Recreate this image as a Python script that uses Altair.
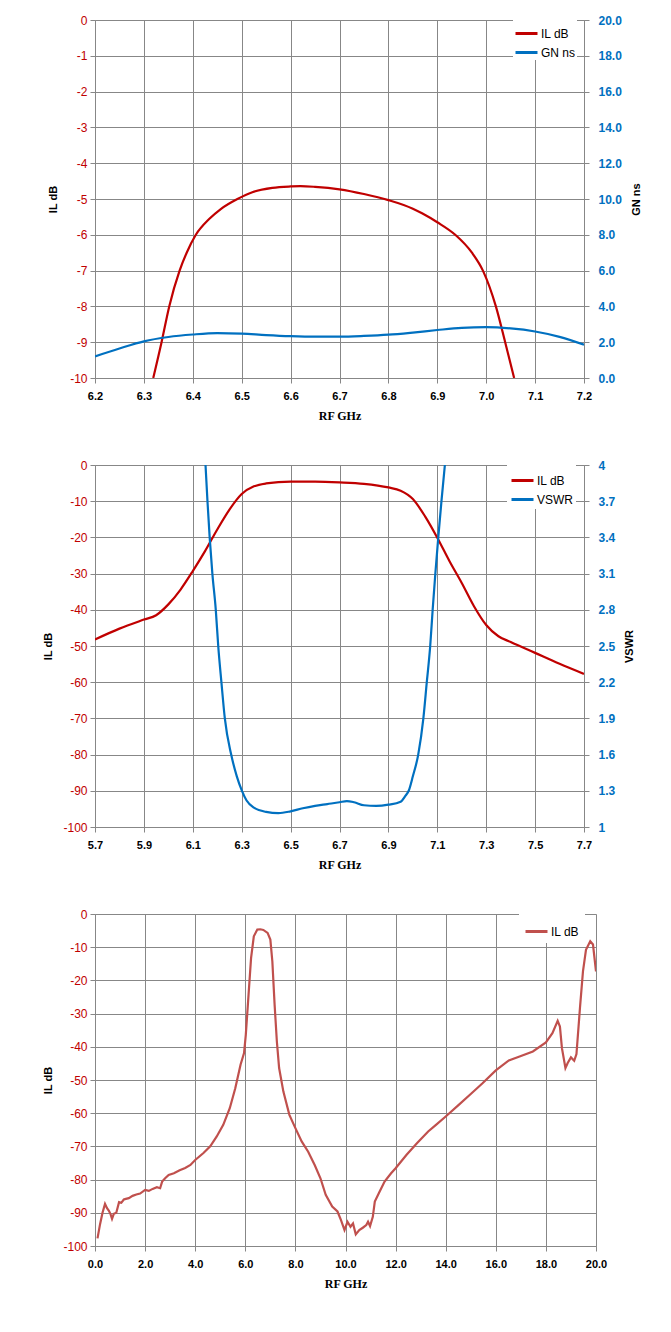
import altair as alt
import pandas as pd

RED = "#C00000"
BLUE = "#0070C0"
RED3 = "#C0504D"
GRID = "#878787"
SANS = "Liberation Sans"
SERIF = "Liberation Serif"

# ---------- Chart 1 data ----------
c1_il_f = [6.3191, 6.3361, 6.3518, 6.3730, 6.3875, 6.4062, 6.4334, 6.4572, 6.4912, 6.5218,
           6.5627, 6.60, 6.62, 6.65, 6.70, 6.75, 6.80, 6.85, 6.8688, 6.90, 6.9367, 6.9708,
           6.9933, 7.0198, 7.0388, 7.0571]
c1_il_v = [-10.0, -9.0, -8.0, -7.0, -6.5, -6.0, -5.56, -5.28, -5.0, -4.81,
           -4.69, -4.65, -4.64, -4.66, -4.73, -4.86, -5.03, -5.27, -5.40, -5.65, -6.0, -6.5,
           -7.0, -8.0, -9.0, -10.0]
c1_gn_f = [6.20, 6.25, 6.30, 6.35, 6.40, 6.45, 6.50, 6.55, 6.60, 6.65, 6.70, 6.75, 6.80,
           6.85, 6.90, 6.95, 7.00, 7.05, 7.10, 7.15, 7.20]
c1_gn_v = [1.21, 1.65, 2.05, 2.29, 2.43, 2.51, 2.48, 2.40, 2.34, 2.31, 2.31, 2.35, 2.42,
           2.54, 2.68, 2.80, 2.84, 2.77, 2.60, 2.30, 1.86]
c1_x_ticks = [6.2, 6.3, 6.4, 6.5, 6.6, 6.7, 6.8, 6.9, 7.0, 7.1, 7.2]
c1_yl_ticks = [0, -1, -2, -3, -4, -5, -6, -7, -8, -9, -10]
c1_yr_ticks = [0, 2, 4, 6, 8, 10, 12, 14, 16, 18, 20]

# ---------- Chart 2 data ----------
c2_il_f = [5.7, 5.8, 5.9, 5.95, 6.0, 6.05, 6.1, 6.15, 6.2, 6.25, 6.3, 6.35, 6.4, 6.5, 6.6,
           6.7, 6.8, 6.9, 6.95, 7.0, 7.05, 7.1, 7.15, 7.2, 7.25, 7.3, 7.35, 7.4, 7.5, 7.6, 7.7]
c2_il_v = [-48.2, -45.2, -42.7, -41.5, -38.5, -34.4, -29.3, -23.8, -17.8, -12.3, -8.0, -5.9,
           -5.1, -4.6, -4.6, -4.8, -5.2, -6.2, -7.1, -9.4, -14.2, -20.1, -26.6, -32.6, -39.0,
           -44.2, -47.3, -48.9, -51.9, -54.9, -57.7]
c2_vs_f = [6.152, 6.16, 6.169, 6.18, 6.194, 6.204, 6.217, 6.231, 6.257, 6.28, 6.301, 6.32,
           6.35, 6.40, 6.45, 6.50, 6.55, 6.60, 6.65, 6.70, 6.73, 6.76, 6.80, 6.85, 6.90,
           6.95, 6.97, 6.983, 7.0, 7.022, 7.043, 7.057, 7.071, 7.081, 7.092, 7.104, 7.117, 7.131]
c2_vs_v = [4.0, 3.7, 3.4, 3.1, 2.8, 2.5, 2.2, 1.9, 1.6, 1.42, 1.3, 1.22,
           1.16, 1.125, 1.115, 1.13, 1.155, 1.175, 1.19, 1.205, 1.215, 1.205, 1.18, 1.175, 1.185,
           1.21, 1.26, 1.3, 1.42, 1.6, 1.9, 2.2, 2.5, 2.8, 3.1, 3.4, 3.7, 4.0]
c2_x_ticks = [5.7, 5.9, 6.1, 6.3, 6.5, 6.7, 6.9, 7.1, 7.3, 7.5, 7.7]
c2_yl_ticks = [0, -10, -20, -30, -40, -50, -60, -70, -80, -90, -100]
c2_yr_ticks = [1, 1.3, 1.6, 1.9, 2.2, 2.5, 2.8, 3.1, 3.4, 3.7, 4]

# ---------- Chart 3 data ----------
c3_f = [0.1, 0.2, 0.3, 0.4, 0.48, 0.55, 0.62, 0.68, 0.75, 0.85, 0.96, 1.05, 1.15, 1.23, 1.35,
        1.5, 1.65, 1.8, 2.0, 2.15, 2.3, 2.47, 2.6, 2.68, 2.8, 2.94, 3.15, 3.38, 3.6, 3.81, 4.0,
        4.33, 4.6, 4.86, 5.12, 5.38, 5.6, 5.81, 5.95, 6.02, 6.13, 6.23, 6.34, 6.48, 6.6, 6.72,
        6.89, 7.0, 7.08, 7.17, 7.26, 7.35, 7.52, 7.76, 8.0, 8.25, 8.51, 8.77, 9.0, 9.21, 9.47,
        9.68, 9.82, 9.96, 10.08, 10.2, 10.3, 10.41, 10.55, 10.69, 10.83, 10.9, 10.98, 11.09,
        11.17, 11.33, 11.56, 11.82, 12.0, 12.43, 12.86, 13.3, 13.6, 14.0, 14.52, 15.0, 15.47,
        16.0, 16.52, 16.95, 17.48, 18.0, 18.26, 18.47, 18.56, 18.64, 18.78, 18.87, 19.0, 19.13,
        19.22, 19.36, 19.48, 19.6, 19.77, 19.88, 20.0]
c3_v = [-97.7, -93.5, -90.0, -87.3, -88.6, -89.3, -90.4, -91.8, -90.3, -90.0, -86.8, -87.0,
        -86.0, -85.8, -85.6, -84.9, -84.5, -84.2, -83.1, -83.4, -82.8, -82.3, -82.6, -80.6,
        -79.6, -78.6, -78.1, -77.2, -76.5, -75.6, -74.1, -72.0, -70.0, -67.0, -63.5, -58.5,
        -52.5, -45.4, -41.9, -36.4, -24.3, -13.3, -6.7, -4.7, -4.6, -4.8, -5.7, -7.7, -14.3,
        -27.3, -38.4, -46.4, -53.5, -60.5, -64.5, -68.5, -71.6, -75.6, -79.6, -84.6, -88.1,
        -89.6, -92.2, -95.2, -92.7, -94.2, -93.2, -96.5, -95.2, -94.5, -93.7, -92.7, -94.0,
        -91.2, -86.6, -84.1, -80.6, -78.1, -76.6, -72.6, -69.0, -65.5, -63.6, -61.0, -57.5,
        -54.2, -51.0, -47.1, -44.1, -42.9, -41.4, -38.7, -35.9, -32.2, -33.9, -40.4, -46.4,
        -44.9, -43.2, -44.2, -42.2, -28.3, -17.3, -10.8, -8.2, -9.2, -17.3]
c3_x_ticks = [0, 2, 4, 6, 8, 10, 12, 14, 16, 18, 20]
c3_y_ticks = [0, -10, -20, -30, -40, -50, -60, -70, -80, -90, -100]

HYPHEN = "replace(datum.label, '\u2212', '-')"


def x_axis(ticks):
    return alt.Axis(values=ticks, format=".1f", title="RF GHz", grid=True, gridColor=GRID,
                    gridOpacity=1, domainColor=GRID, tickColor=GRID, tickSize=5,
                    labelPadding=7, labelFont=SANS, labelFontSize=11, labelFontWeight="bold",
                    labelColor="black", titleFont=SERIF, titleFontSize=12,
                    titleFontWeight="bold", titleColor="black", titlePadding=9,
                    labelFlush=False, labelOverlap=False)


def left_axis(ticks, tp):
    return alt.Axis(values=ticks, title="IL dB", grid=True, gridColor=GRID, gridOpacity=1,
                    domainColor=GRID, tickColor=GRID, tickSize=5, labelPadding=3,
                    labelFont=SANS, labelFontSize=12, labelColor=RED, titleFont=SANS,
                    titleFontSize=11, titleFontWeight="bold", titleColor="black",
                    titlePadding=tp, labelOverlap=False, labelExpr=HYPHEN)


def right_axis(ticks, title, fmt):
    return alt.Axis(values=ticks, title=title, orient="right", format=fmt, grid=False,
                    domainColor=GRID, tickColor=GRID, tickSize=5, labelPadding=9,
                    labelFont=SANS, labelFontSize=12, labelFontWeight="bold",
                    labelColor=BLUE, titleFont=SANS, titleFontSize=11,
                    titleFontWeight="bold", titleColor="black", titleAngle=270,
                    titleBaseline="top", titlePadding=9, labelOverlap=False)


def legend(lx, ly, pad, rowpad):
    return alt.Legend(title=None, orient="none", legendX=lx, legendY=ly, fillColor="white",
                      padding=pad, rowPadding=rowpad, symbolType="stroke", symbolSize=484,
                      symbolStrokeWidth=3, labelFont=SANS, labelFontSize=12,
                      labelColor="black", labelOffset=2)


# ---------- Chart 1 ----------
df1a = pd.DataFrame({"f": c1_il_f, "v": c1_il_v, "s": "IL dB"})
df1b = pd.DataFrame({"f": c1_gn_f, "v": c1_gn_v, "s": "GN ns"})
col1 = alt.Color("s:N", scale=alt.Scale(domain=["IL dB", "GN ns"], range=[RED, BLUE]),
                 legend=legend(418, 0, 1, -4))
xs1 = alt.X("f:Q", scale=alt.Scale(domain=[6.2, 7.2], nice=False, zero=False),
            axis=x_axis(c1_x_ticks))
l1a = alt.Chart(df1a).mark_line(strokeWidth=2.2, clip=True, interpolate="monotone").encode(
    x=xs1,
    y=alt.Y("v:Q", scale=alt.Scale(domain=[-10, 0], nice=False), axis=left_axis(c1_yl_ticks, 11)),
    color=col1, order="f:Q")
l1b = alt.Chart(df1b).mark_line(strokeWidth=2.2, clip=True, interpolate="monotone").encode(
    x=xs1,
    y=alt.Y("v:Q", scale=alt.Scale(domain=[0, 20], nice=False),
            axis=right_axis(c1_yr_ticks, "GN ns", ".1f")),
    color=col1, order="f:Q")
chart1 = alt.layer(l1a, l1b).resolve_scale(y="independent").properties(width=489, height=358)

# ---------- Chart 2 ----------
df2a = pd.DataFrame({"f": c2_il_f, "v": c2_il_v, "s": "IL dB"})
df2b = pd.DataFrame({"f": c2_vs_f, "v": c2_vs_v, "s": "VSWR"})
col2 = alt.Color("s:N", scale=alt.Scale(domain=["IL dB", "VSWR"], range=[RED, BLUE]),
                 legend=legend(412, 0, 3, -1))
xs2 = alt.X("f:Q", scale=alt.Scale(domain=[5.7, 7.7], nice=False, zero=False),
            axis=x_axis(c2_x_ticks))
l2a = alt.Chart(df2a).mark_line(strokeWidth=2.2, clip=True, interpolate="monotone").encode(
    x=xs2,
    y=alt.Y("v:Q", scale=alt.Scale(domain=[-100, 0], nice=False), axis=left_axis(c2_yl_ticks, 9)),
    color=col2, order="f:Q")
l2b = alt.Chart(df2b).mark_line(strokeWidth=2.2, clip=True, interpolate="monotone").encode(
    x=xs2,
    y=alt.Y("v:Q", scale=alt.Scale(domain=[1, 4], nice=False, zero=False),
            axis=right_axis(c2_yr_ticks, "VSWR", "")),
    color=col2, order="f:Q")
chart2 = alt.layer(l2a, l2b).resolve_scale(y="independent").properties(width=489, height=362)

# ---------- Chart 3 ----------
df3 = pd.DataFrame({"f": c3_f, "v": c3_v, "s": "IL dB"})
chart3 = alt.Chart(df3).mark_line(strokeWidth=2.2, clip=True).encode(
    x=alt.X("f:Q", scale=alt.Scale(domain=[0, 20], nice=False), axis=x_axis(c3_x_ticks)),
    y=alt.Y("v:Q", scale=alt.Scale(domain=[-100, 0], nice=False), axis=left_axis(c3_y_ticks, 9)),
    color=alt.Color("s:N", scale=alt.Scale(domain=["IL dB"], range=[RED3]),
                    legend=legend(424, 0, 5, 0)),
    order="f:Q",
).properties(width=501, height=332)

chart = alt.vconcat(chart1, chart2, chart3, spacing=36).resolve_scale(
    color="independent"
).properties(
    padding={"left": 34, "top": 5, "right": 5, "bottom": 5}
).configure_view(stroke=GRID).configure(font=SANS)

chart.save("out.html", embed_options={"renderer": "svg", "actions": False})
